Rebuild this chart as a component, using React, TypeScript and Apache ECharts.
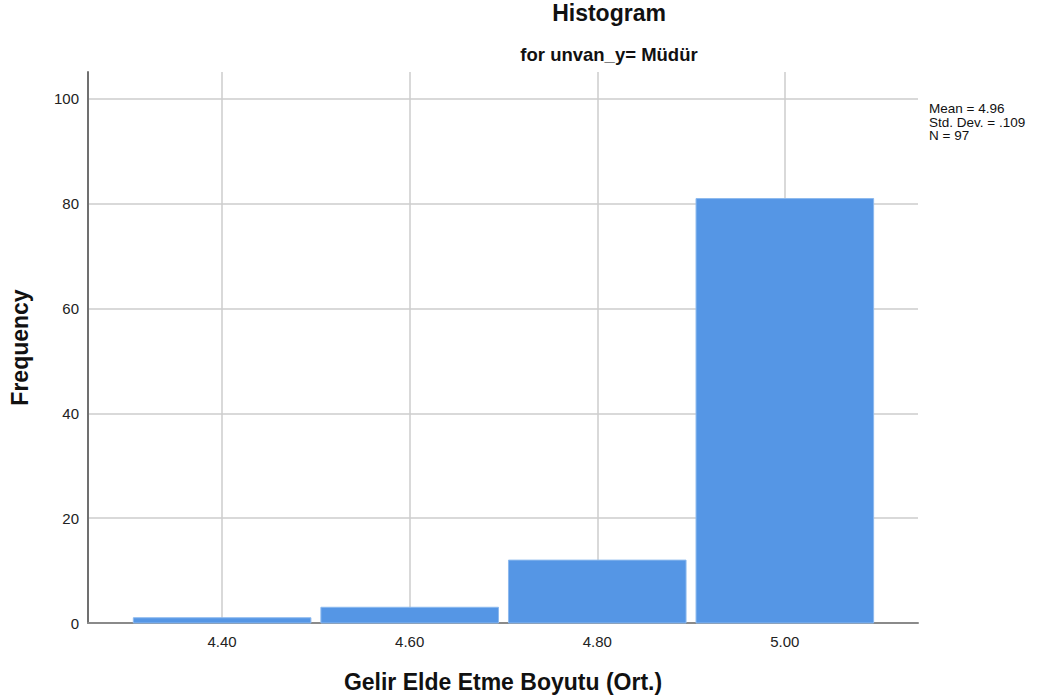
import React, { useEffect, useRef } from "react";
import * as echarts from "echarts";

const binCenters = [4.4, 4.6, 4.8, 5.0];
const frequencies = [1, 3, 12, 81];
const binWidth = 0.2;
const xTicks = [4.4, 4.6, 4.8, 5.0];
const yTicks = [0, 20, 40, 60, 80, 100];
const statsLines = ["Mean = 4.96", "Std. Dev. = .109", "N = 97"];

const FONT = "'Liberation Sans', Arial, sans-serif";

export default function App() {
  const ref = useRef<HTMLDivElement>(null);
  useEffect(() => {
    if (!ref.current) return;
    const chart = echarts.init(ref.current, undefined, { renderer: "svg" });
    const data = binCenters.map((c, i) => [c, frequencies[i]]);
    chart.setOption({
      animation: false,
      backgroundColor: "#ffffff",
      textStyle: { fontFamily: FONT },
      graphic: [
        {
          type: "text",
          x: 609,
          y: 13,
          style: {
            text: "Histogram",
            font: `bold 23px ${FONT}`,
            fill: "#111",
            textAlign: "center",
            textVerticalAlign: "middle",
          },
        },
        {
          type: "text",
          x: 609,
          y: 54,
          style: {
            text: "for unvan_y= Müdür",
            font: `bold 18.5px ${FONT}`,
            fill: "#111",
            textAlign: "center",
            textVerticalAlign: "middle",
          },
        },
        {
          type: "text",
          x: 929,
          y: 102,
          style: {
            text: statsLines.join("\n"),
            font: `13.5px ${FONT}`,
            fill: "#111",
            lineHeight: 13.5,
            textAlign: "left",
            textVerticalAlign: "top",
          },
        },
      ],
      grid: { left: 88, right: 133, top: 72, bottom: 77, containLabel: false },
      xAxis: {
        type: "value",
        min: 4.257,
        max: 5.142,
        name: "Gelir Elde Etme Boyutu (Ort.)",
        nameLocation: "middle",
        nameGap: 47,
        nameTextStyle: { fontFamily: FONT, fontSize: 23, fontWeight: "bold", color: "#111" },
        axisLine: { show: true, lineStyle: { color: "#8a8a8a", width: 2 } },
        axisTick: { show: false, customValues: xTicks },
        axisLabel: {
          customValues: xTicks,
          formatter: (v: number) => v.toFixed(2),
          fontFamily: FONT,
          fontSize: 15,
          color: "#222",
          margin: 11,
        },
        splitLine: { show: true, lineStyle: { color: "#cccccc", width: 1.5 } },
      },
      yAxis: {
        type: "value",
        min: 0,
        max: 105.15,
        name: "Frequency",
        nameLocation: "middle",
        nameGap: 57,
        nameTextStyle: { fontFamily: FONT, fontSize: 23, fontWeight: "bold", color: "#111" },
        axisLine: { show: true, lineStyle: { color: "#707070", width: 2 } },
        axisTick: { show: false, customValues: yTicks },
        axisLabel: {
          customValues: yTicks,
          fontFamily: FONT,
          fontSize: 15,
          color: "#222",
          margin: 9,
        },
        splitLine: { show: true, lineStyle: { color: "#cccccc", width: 1.5 } },
      },
      series: [
        {
          type: "custom",
          data,
          renderItem: (params: any, api: any) => {
            const c = api.value(0);
            const v = api.value(1);
            const p0 = api.coord([c - binWidth / 2, v]);
            const p1 = api.coord([c + binWidth / 2, 0]);
            const inset = 5;
            return {
              type: "rect",
              shape: {
                x: p0[0] + inset,
                y: p0[1],
                width: p1[0] - p0[0] - inset * 2,
                height: p1[1] - p0[1],
              },
              style: { fill: "#5596e5", stroke: "#8cb9ee", lineWidth: 1 },
            };
          },
        },
      ],
    });
    return () => chart.dispose();
  }, []);
  return (
    <div
      ref={ref}
      style={{ position: "absolute", left: 0, top: 0, width: 1051, height: 700 }}
    />
  );
}
